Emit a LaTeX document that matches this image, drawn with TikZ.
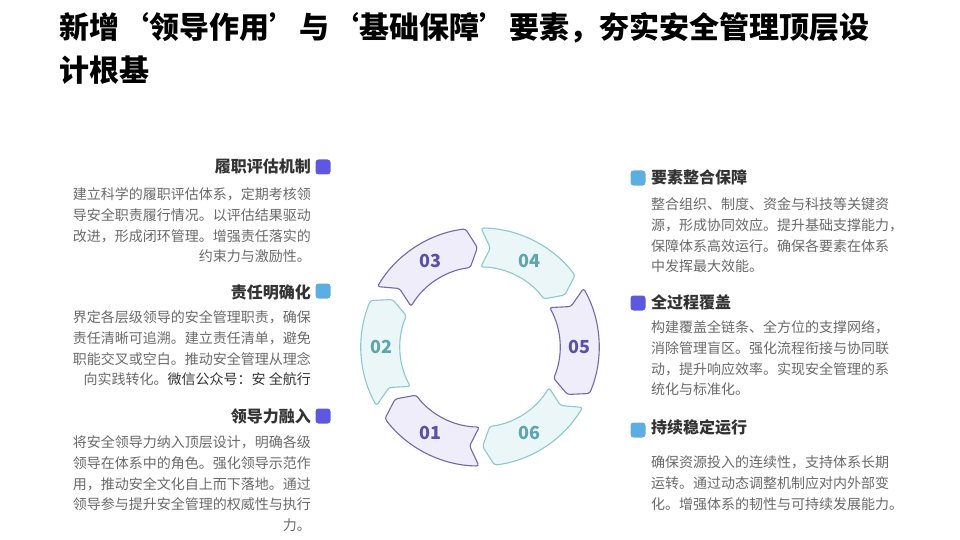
\documentclass[tikz,border=0pt]{standalone}
\usepackage{fontspec}
\setmainfont{Noto Sans CJK SC}
\definecolor{headc}{HTML}{333333}
\definecolor{bodyc}{HTML}{6A6A6A}
\definecolor{sqP}{HTML}{5E58E0}
\definecolor{sqC}{HTML}{5DAEE0}
\definecolor{ringPd}{HTML}{7069AA}
\definecolor{ringPf}{HTML}{EEEDF9}
\definecolor{ringPt}{HTML}{5B50A6}
\definecolor{ringCd}{HTML}{8CC9CD}
\definecolor{ringCf}{HTML}{EAF6F8}
\definecolor{ringCt}{HTML}{5EA5AE}
\begin{document}
\begin{tikzpicture}[x=1pt,y=-1pt,
  titletext/.style={anchor=base west, inner sep=0, text=black,
    font=\fontsize{30}{40}\selectfont\bfseries\addfontfeature{CharacterWidth=Full}},
  headL/.style={anchor=base east, inner sep=0, text=headc, font=\fontsize{16}{20}\selectfont\bfseries},
  headR/.style={anchor=base west, inner sep=0, text=headc, font=\fontsize{16}{20}\selectfont\bfseries},
  bodyL/.style={anchor=north east, inner sep=0, align=right, text=bodyc, font=\fontsize{14}{20.7}\selectfont},
  bodyR/.style={anchor=north west, inner sep=0, align=left, text=bodyc, font=\fontsize{14}{20.7}\selectfont},
  sqbox/.style={rounded corners=3pt, minimum size=15pt, inner sep=0},
  segbase/.style={line width=1.1pt, rounded corners=2.5pt},
  numlabel/.style={inner sep=0, font=\fontsize{18}{20}\selectfont\bfseries}
]
\useasboundingbox[fill=white] (0,0) rectangle (960,540);

% title
\node[titletext] (t1) at (59,38.5) {新增‘领导作用’与‘基础保障’要素，夯实安全管理顶层设};
\node[titletext] (t2) at (59,81.5) {计根基};

% ring
\begin{scope}[shift={(480,347)}, yscale=-1]
\foreach \c/\dc/\fc in {240/ringPd/ringPf,180/ringCd/ringCf,120/ringPd/ringPf,60/ringCd/ringCf,0/ringPd/ringPf,-60/ringCd/ringCf}{
  \draw[segbase, draw=\dc, fill=\fc] (\c+29.5:119) arc[start angle=\c+29.5, end angle=\c-23, radius=119]
     -- (\c-28.5:99.5) -- (\c-23:80) arc[start angle=\c-23, end angle=\c+29.5, radius=80]
     -- (\c+24:99.5) -- cycle;
}
\node[numlabel, text=ringPt] (n01) at (240:99) {01};
\node[numlabel, text=ringCt] (n02) at (180:99) {02};
\node[numlabel, text=ringPt] (n03) at (120:99) {03};
\node[numlabel, text=ringCt] (n04) at (60:99) {04};
\node[numlabel, text=ringPt] (n05) at (0:99) {05};
\node[numlabel, text=ringCt] (n06) at (-60:99) {06};
\end{scope}

% left column
\node[sqbox, fill=sqP] (s1) at (323,167) {};
\node[headL] (h1) at (311,172.6) {履职评估机制};
\node[bodyL] (b1) at (311,187.6) {建立科学的履职评估体系，定期考核领\\导安全职责履行情况。以评估结果驱动\\改进，形成闭环管理。增强责任落实的\\约束力与激励性。};

\node[sqbox, fill=sqC] (s2) at (323,291) {};
\node[headL] (h2) at (311,298.6) {责任明确化};
\node[bodyL] (b2) at (311,310.6) {界定各层级领导的安全管理职责，确保\\责任清晰可追溯。建立责任清单，避免\\职能交叉或空白。推动安全管理从理念\\向实践转化。{\color{headc}微信公众号：安 全航行}};

\node[sqbox, fill=sqP] (s3) at (323,416) {};
\node[headL] (h3) at (311,422.6) {领导力融入};
\node[bodyL] (b3) at (311,435.6) {将安全领导力纳入顶层设计，明确各级\\领导在体系中的角色。强化领导示范作\\用，推动安全文化自上而下落地。通过\\领导参与提升安全管理的权威性与执行\\力。};

% right column
\node[sqbox, fill=sqC] (s4) at (638,178) {};
\node[headR] (h4) at (651,183.6) {要素整合保障};
\node[bodyR] (b4) at (651,197.6) {整合组织、制度、资金与科技等关键资\\源，形成协同效应。提升基础支撑能力，\\保障体系高效运行。确保各要素在体系\\中发挥最大效能。};

\node[sqbox, fill=sqP] (s5) at (638,303) {};
\node[headR] (h5) at (651,308.6) {全过程覆盖};
\node[bodyR] (b5) at (651,320.6) {构建覆盖全链条、全方位的支撑网络，\\消除管理盲区。强化流程衔接与协同联\\动，提升响应效率。实现安全管理的系\\统化与标准化。};

\node[sqbox, fill=sqC] (s6) at (638,430) {};
\node[headR] (h6) at (651,433.6) {持续稳定运行};
\node[bodyR] (b6) at (651,455.6) {确保资源投入的连续性，支持体系长期\\运转。通过动态调整机制应对内外部变\\化。增强体系的韧性与可持续发展能力。};
\end{tikzpicture}
\end{document}
